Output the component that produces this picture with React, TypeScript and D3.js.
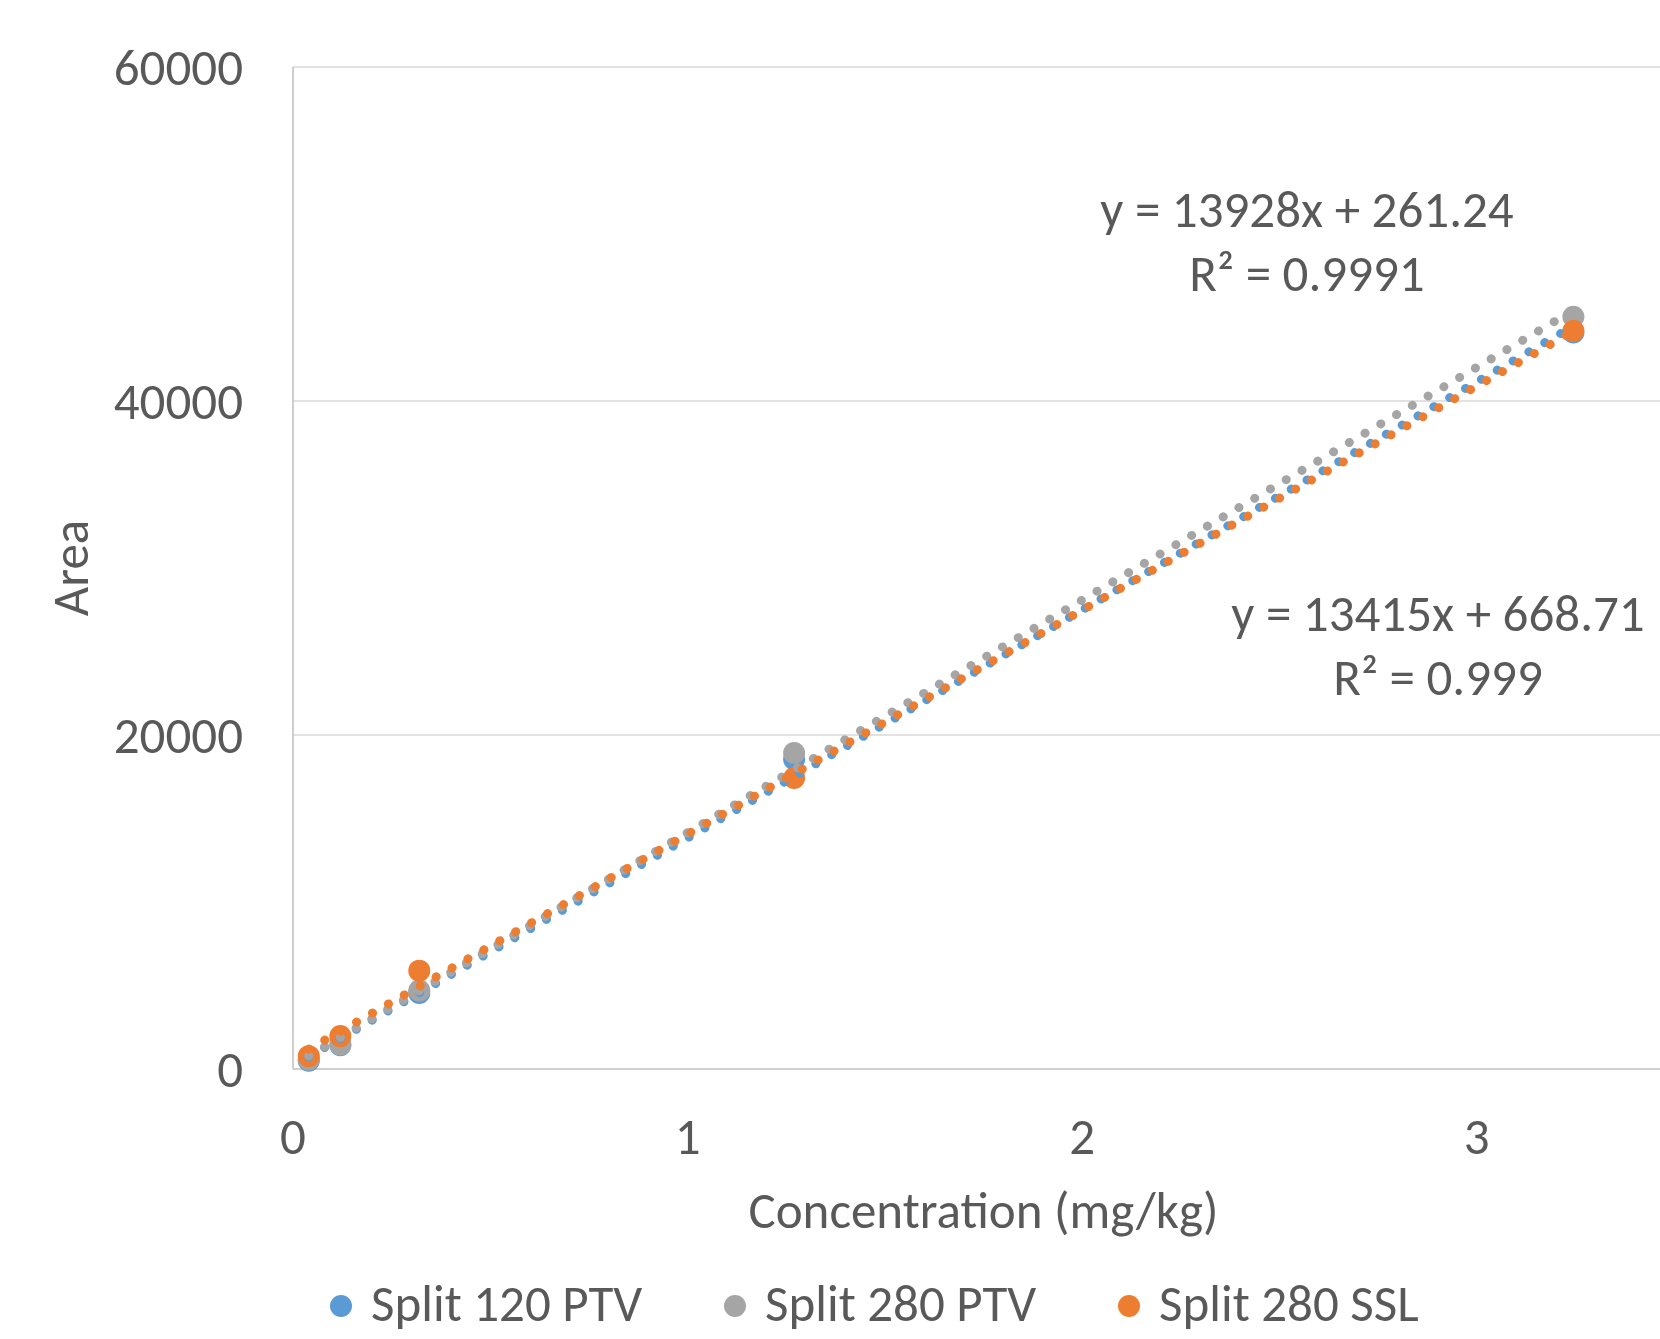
import { useEffect, useRef } from 'react'
import * as d3 from 'd3'

const WIDTH = 1660
const HEIGHT = 1339
const MARGIN = { left: 293, top: 67, right: -14, bottom: 270 } // plot runs past the right edge (cropped)

const FONT = "Carlito, Calibri, Lato, 'Open Sans', sans-serif"
const FONT_SIZE = 51
const TEXT_COLOR = '#595959'

// Concentration (mg/kg) of the calibration levels
const concentrations = [0.04, 0.12, 0.32, 1.27, 3.245]

// Peak areas per series
const split120PTV = [500, 1420, 4550, 18550, 44100]
const split280PTV = [570, 1470, 4700, 18920, 45050]
const split280SSL = [770, 1970, 5890, 17420, 44200]

const seriesNames = ['Split 120 PTV', 'Split 280 PTV', 'Split 280 SSL']
const seriesColors = ['#5B9BD5', '#A5A5A5', '#ED7D31']

const xTicks = [0, 1, 2, 3]
const yTicks = [0, 20000, 40000, 60000]

// Trendline labels as shown on the chart
const equationLabels = [
  { lines: ['y = 13928x + 261.24', 'R² = 0.9991'], x: 1307, y: 227 },
  { lines: ['y = 13415x + 668.71', 'R² = 0.999'], x: 1438, y: 631 },
]

function linearFit(xs: number[], ys: number[]) {
  const mx = d3.mean(xs) as number
  const my = d3.mean(ys) as number
  let sxy = 0
  let sxx = 0
  xs.forEach((x, i) => {
    sxy += (x - mx) * (ys[i] - my)
    sxx += (x - mx) * (x - mx)
  })
  const slope = sxy / sxx
  return { slope, intercept: my - slope * mx }
}

function App() {
  const svgRef = useRef<SVGSVGElement>(null)

  useEffect(() => {
    if (!svgRef.current) return
    const svg = d3.select(svgRef.current)
    svg.selectAll('*').remove()

    const x = d3.scaleLinear()
      .domain([0, 3.5])
      .range([MARGIN.left, WIDTH - MARGIN.right])
    const y = d3.scaleLinear()
      .domain([0, 60000])
      .range([HEIGHT - MARGIN.bottom, MARGIN.top])

    const allSeries = [split120PTV, split280PTV, split280SSL]

    // Gridlines
    svg.append('g')
      .selectAll('line')
      .data(yTicks.filter(t => t > 0))
      .enter()
      .append('line')
      .attr('x1', x(0))
      .attr('x2', x(3.5))
      .attr('y1', d => y(d))
      .attr('y2', d => y(d))
      .attr('stroke', '#D9D9D9')
      .attr('stroke-width', 1.5)

    // Axis lines
    svg.append('line')
      .attr('x1', x(0)).attr('x2', x(0))
      .attr('y1', y(60000)).attr('y2', y(0))
      .attr('stroke', '#BFBFBF')
      .attr('stroke-width', 1.5)
    svg.append('line')
      .attr('x1', x(0)).attr('x2', x(3.5))
      .attr('y1', y(0)).attr('y2', y(0))
      .attr('stroke', '#BFBFBF')
      .attr('stroke-width', 1.5)

    // Tick labels
    svg.append('g')
      .selectAll('text')
      .data(yTicks)
      .enter()
      .append('text')
      .attr('x', 243)
      .attr('y', d => y(d))
      .attr('dy', '0.35em')
      .attr('text-anchor', 'end')
      .attr('font-family', FONT)
      .attr('font-size', FONT_SIZE)
      .attr('fill', TEXT_COLOR)
      .text(d => String(d))

    svg.append('g')
      .selectAll('text')
      .data(xTicks)
      .enter()
      .append('text')
      .attr('x', d => x(d))
      .attr('y', 1154)
      .attr('text-anchor', 'middle')
      .attr('font-family', FONT)
      .attr('font-size', FONT_SIZE)
      .attr('fill', TEXT_COLOR)
      .text(d => String(d))

    // Axis titles
    svg.append('text')
      .attr('x', (x(0) + x(3.5)) / 2)
      .attr('y', 1228)
      .attr('text-anchor', 'middle')
      .attr('font-family', FONT)
      .attr('font-size', FONT_SIZE)
      .attr('fill', TEXT_COLOR)
      .text('Concentration (mg/kg)')

    svg.append('text')
      .attr('transform', `translate(88, ${(y(0) + y(60000)) / 2}) rotate(-90)`)
      .attr('text-anchor', 'middle')
      .attr('font-family', FONT)
      .attr('font-size', FONT_SIZE)
      .attr('fill', TEXT_COLOR)
      .text('Area')

    // Markers
    allSeries.forEach((values, si) => {
      svg.append('g')
        .selectAll('circle')
        .data(values)
        .enter()
        .append('circle')
        .attr('cx', (_, i) => x(concentrations[i]))
        .attr('cy', d => y(d))
        .attr('r', 11)
        .attr('fill', seriesColors[si])
    })

    // Linear trendlines (round dot), drawn above all markers
    allSeries.forEach((values, si) => {
      const fit = linearFit(concentrations, values)
      const [x0, x1] = d3.extent(concentrations) as [number, number]
      svg.append('line')
        .attr('x1', x(x0))
        .attr('y1', y(fit.slope * x0 + fit.intercept))
        .attr('x2', x(x1))
        .attr('y2', y(fit.slope * x1 + fit.intercept))
        .attr('stroke', seriesColors[si])
        .attr('stroke-width', 9)
        .attr('stroke-linecap', 'round')
        .attr('stroke-dasharray', '0.1 18.2')
    })

    // Equation labels
    equationLabels.forEach(label => {
      label.lines.forEach((line, li) => {
        svg.append('text')
          .attr('x', label.x)
          .attr('y', label.y + li * 64)
          .attr('text-anchor', 'middle')
          .attr('font-family', FONT)
          .attr('font-size', FONT_SIZE)
          .attr('fill', TEXT_COLOR)
          .text(line)
      })
    })

    // Legend
    const legendX = [341, 735, 1129]
    const legend = svg.append('g')
      .selectAll('g')
      .data(seriesNames)
      .enter()
      .append('g')
      .attr('transform', (_, i) => `translate(${legendX[i]}, 1306)`)
    legend.append('circle')
      .attr('r', 11)
      .attr('fill', (_, i) => seriesColors[i])
    legend.append('text')
      .attr('x', 30)
      .attr('y', 15)
      .attr('font-family', FONT)
      .attr('font-size', FONT_SIZE)
      .attr('fill', TEXT_COLOR)
      .text(d => d)
  }, [])

  return (
    <svg
      ref={svgRef}
      width={WIDTH}
      height={HEIGHT}
      style={{ position: 'absolute', left: 0, top: 0, background: '#fff' }}
    />
  )
}

export default App
